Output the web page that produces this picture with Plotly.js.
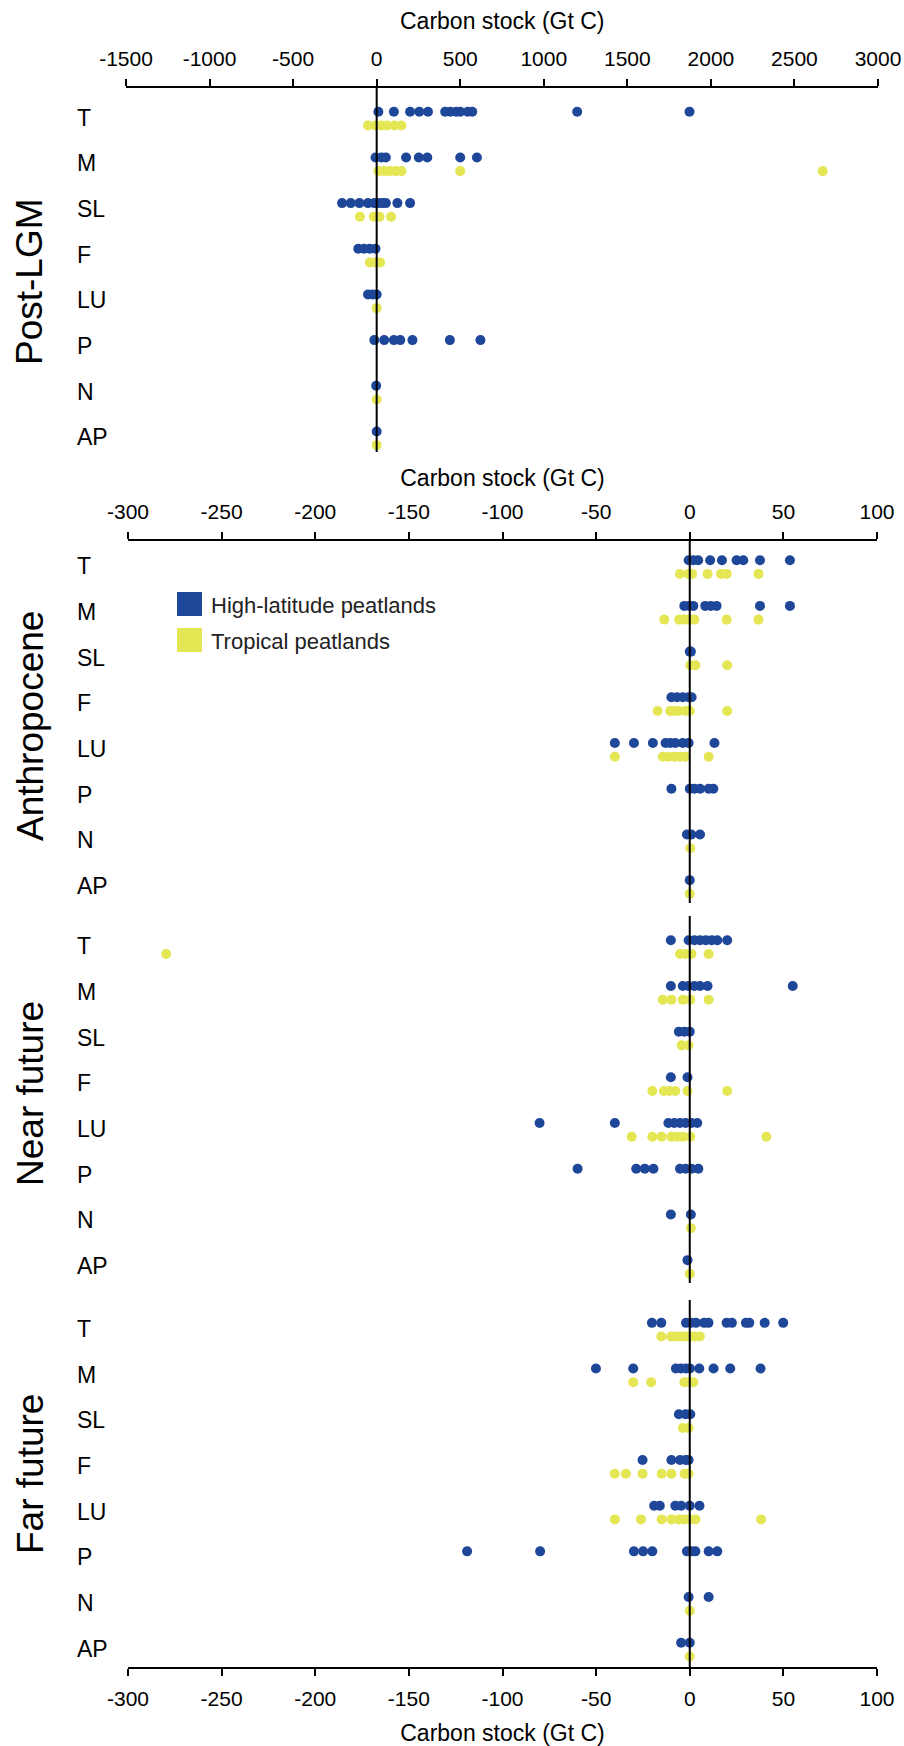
<!DOCTYPE html>
<html>
<head>
<meta charset="utf-8">
<script src="https://cdn.plot.ly/plotly-3.0.1.min.js"></script>
<style>
  html, body { margin: 0; padding: 0; background: #ffffff; }
  #chart { width: 904px; height: 1746px; }
</style>
</head>
<body>
<div id="chart"></div>
<script>
// ---------------- DATA ----------------
const categories = ['T', 'M', 'SL', 'F', 'LU', 'P', 'N', 'AP'];
const panelNames = ['Post-LGM', 'Anthropocene', 'Near future', 'Far future'];
const seriesNames = ['High-latitude peatlands', 'Tropical peatlands'];
const axisTitle = 'Carbon stock (Gt C)';
const topTicks = [-1500, -1000, -500, 0, 500, 1000, 1500, 2000, 2500, 3000];
const lowerTicks = [-300, -250, -200, -150, -100, -50, 0, 50, 100];

// Post-LGM (Gt C), one list per category in the order of `categories`
const postLgmHigh = [
  [10, 103, 200, 255, 307, 410, 441, 476, 500, 545, 572, 1200, 1872],
  [-7, 28, 55, 176, 252, 303, 500, 600],
  [-207, -155, -103, -52, -14, 10, 34, 55, 124, 200],
  [-110, -76, -41, -7],
  [-52, -24, 0],
  [-14, 45, 103, 141, 214, 438, 621],
  [-3],
  [0]
];
const postLgmTrop = [
  [-52, -7, 28, 62, 107, 148],
  [10, 45, 79, 114, 148, 500, 2669],
  [-100, -17, 17, 86],
  [-41, -7, 21],
  [0],
  [],
  [0],
  [0]
];

// Anthropocene
const anthroHigh = [
  [-0.6, 1.9, 4.5, 10.9, 17.2, 25, 28.6, 37.5, 53.5],
  [-2.9, -0.3, 1.9, 8.3, 11.3, 14.3, 37.5, 53.5],
  [0, 0.6],
  [-9.8, -6.8, -3.7, -0.6, 1],
  [-40, -29.8, -19.7, -12.9, -10.4, -7.7, -3.7, -0.6, 13.2],
  [-9.8, 0, 2.5, 5.5, 10.1, 12.6],
  [-1.5, 0.9, 5.5],
  [0]
];
const anthroTrop = [
  [-5.2, -0.6, 1.2, 9.5, 16.7, 19.7, 36.7],
  [-13.6, -5.6, -2.9, -0.3, 2.4, 19.7, 36.7],
  [0.3, 3, 20],
  [-17.2, -10.4, -8.3, -5.8, -2.2, 0, 20],
  [-40, -14.4, -11.4, -8.3, -5.2, -2.2, 10.1],
  [],
  [0.3],
  [0]
];

// Near future
const nearHigh = [
  [-10.1, -0.6, 2.5, 5.5, 8.6, 11.7, 14.7, 20],
  [-10.1, -3.7, -0.6, 2.5, 5.5, 9.5, 55],
  [-5.8, -2.8, 0],
  [-10.1, -1.2],
  [-80.2, -40, -11.4, -8.3, -5.2, -2.2, 0.9, 4],
  [-59.9, -28.6, -24, -19.4, -5.2, -2.2, 0.9, 4.6],
  [-10.1, 0.6],
  [-1.2]
];
const nearTrop = [
  [-279.6, -5.2, -2.2, 0.9, 10.1],
  [-14.4, -9.8, -3.7, 0.3, 10.1],
  [-4.3, -0.6],
  [-20, -13.8, -10.8, -7.7, -1.2, 20],
  [-31, -20, -15, -9.8, -6.8, -3.7, 0.3, 40.9],
  [],
  [0.6],
  [0]
];

// Far future
const farHigh = [
  [-20.2, -15.2, -2.0, 0.6, 3.3, 7.7, 10.0, 19.7, 22.5, 30.0, 31.8, 40.0, 49.9],
  [-50.1, -30.2, -7.4, -4.7, -2.0, 0.1, 5.1, 12.7, 21.6, 37.8],
  [-5.8, -2.2, 0.3],
  [-25.2, -9.8, -5.2, -2.2, -0.6],
  [-19, -16, -7.7, -4.6, 0, 5.2],
  [-118.9, -79.9, -29.8, -24.9, -20, -1.5, 0.9, 3, 10.1, 14.7],
  [-0.6, 10.1],
  [-4.6, 0]
];
const farTrop = [
  [-15.2, -10.0, -7.4, -4.7, -2.0, 0.6, 2.9, 5.4],
  [-30.2, -20.6, -2.9, -0.3, 1.9],
  [-3.7, -0.6],
  [-40, -34.1, -25.2, -15, -9.8, -2.8, -0.6],
  [-40, -26.1, -15, -9.8, -5.8, -2.8, 0, 3, 38.1],
  [],
  [0],
  [0]
];

// ---------------- STYLE / LAYOUT ----------------
const W = 904, H = 1746;
const BLUE = '#1f4799';
const YELLOW = '#e4e654';
const FONT = 'Liberation Sans, Arial, Helvetica, sans-serif';
const TROP_OFFSET = 0.3;   // tropical row sits just below the high-latitude row
const LABEL_OFFSET = 0.13;

const panelsHigh = [postLgmHigh, anthroHigh, nearHigh, farHigh];
const panelsTrop = [postLgmTrop, anthroTrop, nearTrop, farTrop];

// pixel geometry of panels (top, bottom) and y-range padding
const panelPx = [
  {top: 88,  bottom: 452,  padTop: 0.52, padBot: 0.15},
  {top: 541, bottom: 903,  padTop: 0.42, padBot: 0.20},
  {top: 916, bottom: 1283, padTop: 0.53, padBot: 0.20},
  {top: 1300, bottom: 1667, padTop: 0.50, padBot: 0.23}
];
const yp = px => 1 - px / H;
const xp = px => px / W;

const traces = [];
panelsHigh.forEach((high, p) => {
  const trop = panelsTrop[p];
  const ax = p === 0 ? '' : String(p + 1);
  const hx = [], hy = [], tx = [], ty = [];
  categories.forEach((c, i) => {
    high[i].forEach(v => { hx.push(v); hy.push(i); });
    trop[i].forEach(v => { tx.push(v); ty.push(i + TROP_OFFSET); });
  });
  traces.push({
    type: 'scatter', mode: 'markers', x: hx, y: hy,
    xaxis: 'x' + ax, yaxis: 'y' + ax, name: seriesNames[0], showlegend: false,
    marker: {color: BLUE, size: 10, line: {width: 0}}, cliponaxis: false, hoverinfo: 'x'
  });
  traces.push({
    type: 'scatter', mode: 'markers', x: tx, y: ty,
    xaxis: 'x' + ax, yaxis: 'y' + ax, name: seriesNames[1], showlegend: false,
    marker: {color: YELLOW, size: 10, line: {width: 0}}, cliponaxis: false, hoverinfo: 'x'
  });
});

const tickFont = {family: FONT, size: 21, color: '#000'};
const titleFont = {family: FONT, size: 23, color: '#000'};
function xAxis(p, opts) {
  const isTop = p === 0;
  const base = {
    domain: isTop ? [xp(126), xp(878)] : [xp(128), xp(877)],
    range: isTop ? [-1500, 3000] : [-300, 100],
    anchor: p === 0 ? 'y' : 'y' + (p + 1),
    showgrid: false, zeroline: false,
    tickmode: 'array', tickvals: isTop ? topTicks : lowerTicks,
    ticktext: (isTop ? topTicks : lowerTicks).map(String),
    tickfont: tickFont, fixedrange: true
  };
  return Object.assign(base, opts);
}
const axisVisible = {
  showline: true, linecolor: '#000', linewidth: 2,
  ticks: 'outside', ticklen: 7, tickwidth: 2, tickcolor: '#000',
  showticklabels: true, ticklabelstandoff: 5
};

const layout = {
  width: W, height: H,
  margin: {l: 0, r: 0, t: 0, b: 0},
  paper_bgcolor: '#ffffff', plot_bgcolor: 'rgba(0,0,0,0)',
  showlegend: false,
  font: {family: FONT, color: '#000'},
  xaxis: xAxis(0, Object.assign({side: 'top'}, axisVisible)),
  xaxis2: xAxis(1, Object.assign({side: 'top',
    title: {text: axisTitle, font: titleFont, standoff: 7}}, axisVisible)),
  xaxis3: xAxis(2, {showline: false, ticks: '', showticklabels: false, matches: 'x2'}),
  xaxis4: xAxis(3, Object.assign({side: 'bottom',
    title: {text: axisTitle, font: titleFont, standoff: 16}}, axisVisible)),
  shapes: [], annotations: []
};

// title of the top (Post-LGM) axis
layout.annotations.push({
  xref: 'x domain', yref: 'paper', x: 0.5, y: yp(21),
  xanchor: 'center', yanchor: 'middle', showarrow: false, text: axisTitle,
  font: titleFont
});

panelPx.forEach((g, p) => {
  const key = p === 0 ? 'yaxis' : 'yaxis' + (p + 1);
  layout[key] = {
    domain: [yp(g.bottom), yp(g.top)],
    range: [categories.length - 1 + TROP_OFFSET + g.padBot, -g.padTop],
    anchor: p === 0 ? 'x' : 'x' + (p + 1),
    visible: false, fixedrange: true
  };
  const ax = p === 0 ? '' : String(p + 1);
  // zero reference line, drawn above the dots
  layout.shapes.push({
    type: 'line', layer: 'above', xref: 'x' + ax, yref: 'y' + ax + ' domain',
    x0: 0, x1: 0, y0: 0, y1: 1, line: {color: '#000', width: 2}
  });
  // category labels
  categories.forEach((c, i) => {
    layout.annotations.push({
      xref: 'paper', yref: 'y' + ax, x: xp(75), y: i + LABEL_OFFSET,
      xanchor: 'left', yanchor: 'middle', showarrow: false, text: c,
      font: {family: FONT, size: 23, color: '#000'}
    });
  });
});

// section titles
const sectionCenters = [282, 726, 1094, 1474];
panelNames.forEach((n, p) => {
  layout.annotations.push({
    xref: 'paper', yref: 'paper', x: xp(30), y: yp(sectionCenters[p]),
    xanchor: 'center', yanchor: 'middle', textangle: -90, showarrow: false, text: n,
    font: {family: FONT, size: 37, color: '#000'}
  });
});

// legend
const legendColors = [BLUE, YELLOW];
const legendRows = [604, 640];
seriesNames.forEach((n, k) => {
  layout.shapes.push({
    type: 'rect', xref: 'paper', yref: 'paper', layer: 'above',
    x0: xp(177), x1: xp(202), y0: yp(legendRows[k] + 12), y1: yp(legendRows[k] - 12),
    fillcolor: legendColors[k], line: {width: 0}
  });
  layout.annotations.push({
    xref: 'paper', yref: 'paper', x: xp(209), y: yp(legendRows[k] + 1),
    xanchor: 'left', yanchor: 'middle', showarrow: false, text: n,
    font: {family: FONT, size: 22, color: '#222'}
  });
});

Plotly.newPlot('chart', traces, layout, {staticPlot: true, displayModeBar: false});
</script>
</body>
</html>
